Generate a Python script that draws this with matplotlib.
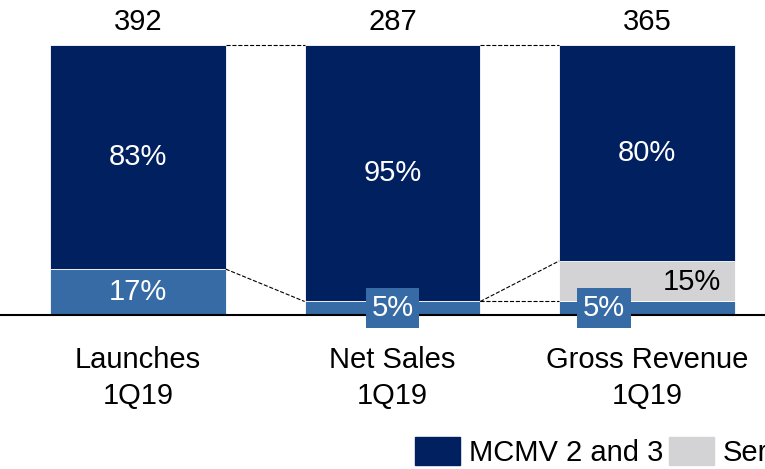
import matplotlib.pyplot as plt
from matplotlib.patches import Patch

# Dados
categories = ['Launches\n1Q19', 'Net Sales\n1Q19', 'Gross Revenue\n1Q19']
totals = [392, 287, 365]
mcmv_low = [17, 5, 5]       # azul medio (base)
services = [0, 0, 15]       # cinza
mcmv_23 = [83, 95, 80]      # azul marinho

navy = '#002060'
mid = '#376BA5'
grey = '#D3D3D5'

plt.rcParams['font.family'] = ['Liberation Sans Narrow', 'Liberation Sans', 'DejaVu Sans']

fig = plt.figure(figsize=(7.65, 4.69), dpi=100)
ax = fig.add_axes([0, 0, 1, 1])
ax.set_xlim(-0.542, 2.464)
ax.set_ylim(-57.04, 116.67)
ax.axis('off')

x = list(range(len(categories)))
w = 0.69
bottom2 = [a + b for a, b in zip(mcmv_low, services)]

ax.bar(x, mcmv_low, w, color=mid, edgecolor='white', linewidth=0.6)
ax.bar(x, services, w, bottom=mcmv_low, color=grey, edgecolor='white', linewidth=0.6)
ax.bar(x, mcmv_23, w, bottom=bottom2, color=navy, edgecolor='white', linewidth=0.6)

# linha base
ax.axhline(0, color='black', linewidth=1.5)

# conectores tracejados
tops = [a + b for a, b in zip(bottom2, mcmv_23)]
for i in range(len(x) - 1):
    ax.plot([x[i] + w / 2, x[i + 1] - w / 2], [tops[i], tops[i + 1]],
            color='black', ls='--', lw=0.8)
ax.plot([x[0] + w / 2, x[1] - w / 2], [mcmv_low[0], mcmv_low[1]], color='black', ls='--', lw=0.8)
ax.plot([x[1] + w / 2, x[2] - w / 2], [mcmv_low[1], bottom2[2]], color='black', ls='--', lw=0.8)
ax.plot([x[1] + w / 2, x[2] - w / 2], [mcmv_low[1], mcmv_low[2]], color='black', ls='--', lw=0.8)

fs = 21
for i in x:
    ax.text(i, 108.5, str(totals[i]), ha='center', va='center', fontsize=fs)
    ax.text(i, bottom2[i] + mcmv_23[i] / 2, f'{mcmv_23[i]}%', ha='center', va='center',
            fontsize=fs, color='white')
    ax.text(i, -23.3, categories[i], ha='center', va='center', fontsize=fs, linespacing=1.35)

# rotulos da base
ax.text(x[0], mcmv_low[0] / 2, f'{mcmv_low[0]}%', ha='center', va='center', fontsize=fs, color='white')
box = dict(boxstyle='square,pad=0.2', facecolor=mid, edgecolor='none')
ax.text(x[1], 2.6, f'{mcmv_low[1]}%', ha='center', va='center', fontsize=fs, color='white', bbox=box)
ax.text(1.831, 2.6, f'{mcmv_low[2]}%', ha='center', va='center', fontsize=fs, color='white', bbox=box)
ax.text(2.177, 12.2, f'{services[2]}%', ha='center', va='center', fontsize=fs, color='black')

handles = [Patch(color=navy, label='MCMV 2 and 3'), Patch(color=grey, label='Services')]
fig.legend(handles=handles, loc='lower left', bbox_to_anchor=(415 / 765, 1 - 467 / 469),
           ncol=2, frameon=False, fontsize=fs, borderpad=0, borderaxespad=0,
           handlelength=1.54, handleheight=1.13, handletextpad=0.31, columnspacing=0.2)

fig.savefig('out.png', dpi=100)
